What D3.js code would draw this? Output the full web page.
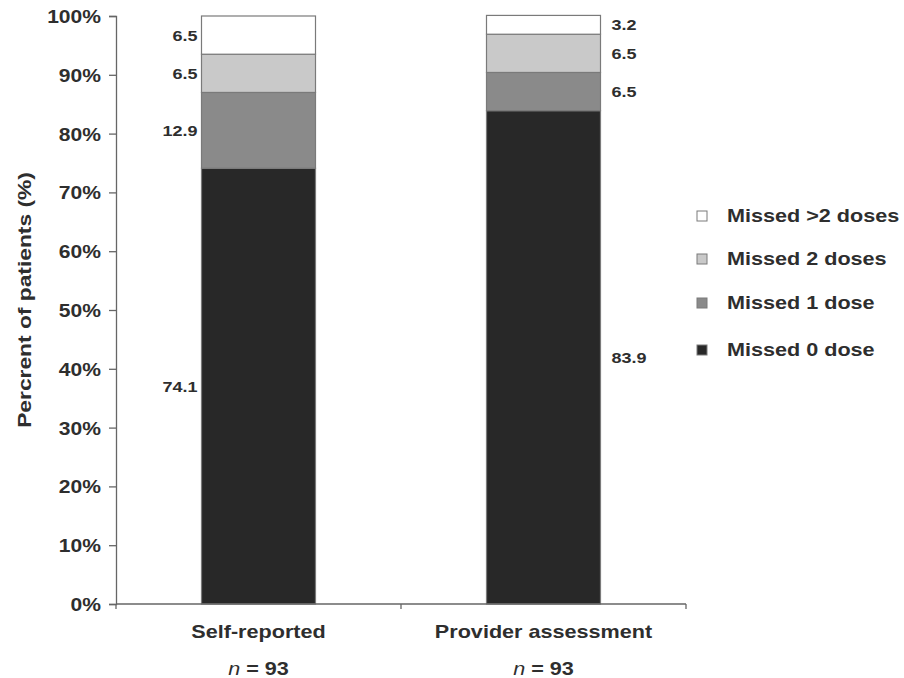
<!DOCTYPE html>
<html>
<head>
<meta charset="utf-8">
<script src="https://cdn.jsdelivr.net/npm/d3@7"></script>
<style>
  body { margin: 0; background: #fff; }
  svg text { font-family: "Liberation Sans", Arial, sans-serif; font-weight: bold; fill: #2e2e2e; }
</style>
</head>
<body>
<svg id="chart" width="904" height="678"></svg>
<script>
// Adherence categories, bottom to top of each stacked bar
const doseKeys = ["Missed 0 dose", "Missed 1 dose", "Missed 2 doses", "Missed >2 doses"];
const groups = ["Self-reported", "Provider assessment"];
const selfReported = [74.1, 12.9, 6.5, 6.5];
const providerAssessment = [83.9, 6.5, 6.5, 3.2];
const yTicks = [0, 10, 20, 30, 40, 50, 60, 70, 80, 90, 100];
const sampleSize = ["93", "93"];

const fills = ["#282828", "#8a8a8a", "#c9c9c9", "#ffffff"];
const STRETCH = 1.2; // horizontal widening applied to all text

const rows = [selfReported, providerAssessment].map((vals, i) => {
  const r = { group: groups[i] };
  doseKeys.forEach((k, j) => r[k] = vals[j]);
  return r;
});

const svg = d3.select("#chart");
const margin = { left: 116, right: 218, top: 16, bottom: 74 };
const W = 904, H = 678;

const x = d3.scaleBand().domain(groups).range([margin.left, W - margin.right]).paddingInner(0.6).paddingOuter(0.3);
const y = d3.scaleLinear().domain([0, 100]).range([H - margin.bottom, margin.top]);

// Text helper: positions a label and widens it around its anchor point
function label(px, py, str, size, anchor, extra) {
  const t = svg.append("text")
    .attr("transform", `translate(${px},${py})${extra || ""} scale(${STRETCH},1)`)
    .attr("text-anchor", anchor || "start")
    .style("font-size", size + "px");
  if (str !== null) t.text(str);
  return t;
}

const stack = d3.stack().keys(doseKeys)(rows);

// Stacked bars
svg.append("g").selectAll("g").data(stack).join("g")
  .attr("fill", (d, i) => fills[i])
  .selectAll("rect").data(d => d).join("rect")
  .attr("x", d => x(d.data.group))
  .attr("width", x.bandwidth())
  .attr("y", d => y(d[1]))
  .attr("height", d => y(d[0]) - y(d[1]))
  .attr("stroke", "#7a7a7a")
  .attr("stroke-width", 1.2);

// Y axis
const yAxis = svg.append("g")
  .attr("transform", `translate(${margin.left},0)`)
  .call(d3.axisLeft(y).tickValues(yTicks).tickFormat(d => d + "%").tickSize(7).tickPadding(8));
yAxis.select(".domain").attr("stroke", "#666").attr("stroke-width", 1.3);
yAxis.selectAll(".tick line").attr("stroke", "#666").attr("stroke-width", 1.3);
yAxis.selectAll(".tick text")
  .attr("x", null).attr("dy", null)
  .attr("transform", `translate(-15,0) scale(1.17,1)`)
  .attr("dy", "0.36em")
  .attr("fill", "#2e2e2e")
  .style("font-size", "18px")
  .style("font-family", "'Liberation Sans', Arial, sans-serif")
  .style("font-weight", "bold");

// X axis baseline with a separator tick between groups
const x0 = margin.left, x1 = W - margin.right, yBase = y(0);
svg.append("line").attr("x1", x0).attr("x2", x1).attr("y1", yBase).attr("y2", yBase)
  .attr("stroke", "#666").attr("stroke-width", 1.3);
[x0, (x0 + x1) / 2, x1].forEach(tx => {
  svg.append("line").attr("x1", tx).attr("x2", tx).attr("y1", yBase).attr("y2", yBase + 5)
    .attr("stroke", "#666").attr("stroke-width", 1.3);
});

// Group labels
groups.forEach((g, i) => {
  const cx = x(g) + x.bandwidth() / 2;
  label(cx, 638, g, 18, "middle");
  const t = label(cx, 675, null, 18, "middle");
  t.append("tspan").style("font-style", "italic").style("font-weight", "normal").text("n");
  t.append("tspan").text(" = " + sampleSize[i]);
});

// Segment value labels: left of first bar, right of second
stack.forEach(layer => {
  layer.forEach((d, gi) => {
    const v = d[1] - d[0];
    const cy = Math.max((y(d[0]) + y(d[1])) / 2, y(100) + 3);
    const left = gi === 0;
    const bx = x(d.data.group);
    label(left ? bx - 4 : bx + x.bandwidth() + 11, cy, d3.format(".1f")(v), 15, left ? "end" : "start")
      .attr("dy", "0.36em");
  });
});

// Y axis title
label(31, 300, "Percrent of patients (%)", 19, "middle", " rotate(-90)");

// Legend, top entry first
const legendKeys = doseKeys.slice().reverse();
const legendFills = fills.slice().reverse();
const legendY = [216, 259, 303, 350];
legendKeys.forEach((k, i) => {
  svg.append("rect").attr("x", 697).attr("y", legendY[i] - 5).attr("width", 10).attr("height", 10)
    .attr("fill", legendFills[i]).attr("stroke", "#7a7a7a").attr("stroke-width", 1);
  label(727, legendY[i], k, 18, "start").attr("dy", "0.36em");
});
</script>
</body>
</html>
